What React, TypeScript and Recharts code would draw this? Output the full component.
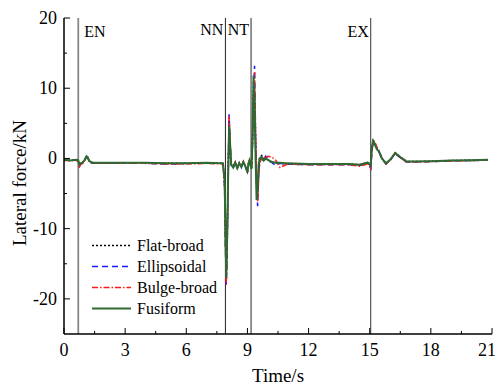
import { LineChart, Line, XAxis, YAxis, ReferenceLine, Legend } from 'recharts';

// time (s) and lateral force (kN)
const time = [
  0, 0.3, 0.6, 0.7, 0.75, 0.8, 0.9, 1.0, 1.1, 1.15, 1.25, 1.4,
  2, 3, 4, 5, 5.5, 6, 7, 7.8,
  7.88, 7.92, 7.96, 8.0, 8.05, 8.1, 8.15, 8.2,
  8.3, 8.4, 8.5, 8.6, 8.7, 8.8, 8.9, 9.0, 9.05, 9.1, 9.2, 9.25,
  9.3, 9.35, 9.4, 9.45, 9.5, 9.55, 9.6, 9.7, 9.8, 9.9, 10.0,
  10.2, 10.4, 10.6, 10.8, 11.0, 12, 13, 14, 14.5, 14.9, 15.0,
  15.05, 15.1, 15.17, 15.25, 15.35, 15.45, 15.6, 15.8, 16.0,
  16.25, 16.5, 16.8, 17, 18, 19, 20, 20.8,
];

const flatBroad = [
  -0.2, -0.3, -0.2, -0.3, -1.0, -0.7, -0.6, -0.3, 0.3, 0.2, -0.4, -0.6,
  -0.6, -0.6, -0.6, -0.7, -0.7, -0.7, -0.6, -0.7,
  -3.5, -11, -17.5, -13, -3.5, 5.5, 2.2, -0.9,
  -1.2, -0.6, -1.3, -0.7, -1.1, -0.5, -1.2, -1.9, -0.7, -0.3, -1.4, 2.5,
  11, 10, 2, -4.5, -5.5, -1.5, 0.1, 0.4, -0.2, 0.1, -0.2,
  -0.5, -0.6, -0.7, -0.7, -0.8, -0.8, -0.8, -0.8, -0.9, -0.6, -0.8,
  -1.2, 1.3, 2.5, 2.1, 1.4, 1.1, 0, -0.7, -0.2,
  0.8, 0.2, -0.4, -0.45, -0.4, -0.3, -0.25, -0.2,
];

const ellipsoidal = [
  -0.2, -0.3, -0.2, -0.3, -1.1, -0.8, -0.7, -0.4, 0.2, 0.2, -0.5, -0.7,
  -0.7, -0.7, -0.7, -0.8, -0.8, -0.7, -0.7, -0.7,
  -4, -12, -18, -14, -4, 6.3, 2.5, -1.0,
  -1.4, -0.7, -1.3, -0.6, -1.3, -0.6, -1.2, -1.8, -1.0, -0.4, -1.3, 2,
  9, 13.2, 3, -3, -6.8, -2.5, -0.5, 0.1, -0.5, 0.3, -0.3,
  -0.6, -1.0, -0.7, -0.8, -0.8, -0.9, -0.9, -0.9, -1.0, -0.7, -0.9,
  -1.8, 0.8, 2.3, 2.2, 1.5, 1.0, -0.1, -0.8, -0.3,
  0.7, 0.1, -0.5, -0.5, -0.45, -0.35, -0.3, -0.25,
];

const bulgeBroad = [
  -0.3, -0.3, -0.3, -0.4, -1.4, -0.9, -0.7, -0.4, 0.2, 0.1, -0.5, -0.7,
  -0.7, -0.7, -0.7, -0.8, -0.8, -0.8, -0.7, -0.8,
  -4, -12, -18, -13, -4, 6.0, 2.3, -0.9,
  -1.2, -0.5, -1.5, -0.6, -1.1, -0.4, -1.2, -1.7, -0.6, -0.2, -1.4, 2.5,
  8.5, 12.3, 4, -2, -6.2, -3, -0.6, 0, 0.3, -0.1, 0.3,
  0.2, -0.3, -1.3, -1.0, -0.8, -0.9, -0.9, -0.9, -1.1, -0.8, -1.0,
  -1.6, 1.0, 2.6, 2.4, 1.6, 1.2, 0.0, -0.8, -0.2,
  0.7, 0.1, -0.5, -0.5, -0.45, -0.35, -0.3, -0.25,
];

const fusiform = [
  -0.2, -0.3, -0.2, -0.3, -0.9, -0.7, -0.6, -0.3, 0.3, 0.2, -0.4, -0.6,
  -0.6, -0.6, -0.6, -0.7, -0.7, -0.7, -0.6, -0.7,
  -3, -10, -17, -12, -3, 4.6, 2, -0.8,
  -1.3, -0.6, -1.4, -0.7, -1.2, -0.5, -1.1, -2.0, -0.8, -0.3, -1.5, 3,
  11.8, 8, 0, -5.9, -4, -1, 0, 0.2, -0.3, 0, -0.2,
  -0.5, -0.6, -0.6, -0.7, -0.7, -0.8, -0.8, -0.8, -0.9, -0.6, -0.8,
  -1.0, 1.5, 2.5, 2.0, 1.3, 1.0, 0, -0.7, -0.2,
  0.8, 0.2, -0.4, -0.45, -0.4, -0.3, -0.25, -0.2,
];

const xTicks = [0, 1.5, 3, 4.5, 6, 7.5, 9, 10.5, 12, 13.5, 15, 16.5, 18, 19.5, 21];
const yTicks = [-20, -15, -10, -5, 0, 5, 10, 15, 20];

const phaseTimes = [0.7, 7.92, 9.18, 15.05];
const phaseLabels = ['EN', 'NN', 'NT', 'EX'];

const seriesNames = ['Flat-broad', 'Ellipsoidal', 'Bulge-broad', 'Fusiform'];
const seriesKeys = ['flat', 'ell', 'bulge', 'fusi'];
const seriesColors = ['#000000', '#1a1aff', '#ff1a1a', '#2e6b30'];
const seriesDash = ['2 2', '6 4', '6 2 1.5 2', undefined];
const seriesWidth = [1.5, 1.5, 1.5, 2];

const rows = time.map((t, i) => ({
  t,
  flat: flatBroad[i],
  ell: ellipsoidal[i],
  bulge: bulgeBroad[i],
  fusi: fusiform[i],
}));

const font = "'Liberation Serif', 'Times New Roman', Times, serif";

const BottomTick = (props: any) => {
  const { x, y, payload } = props;
  const major = payload.value % 3 === 0;
  // last label sits at the right edge, pull it in a little so it is not clipped
  const lx = payload.value === 21 ? x - 5 : x;
  return (
    <g>
      <line x1={x} y1={y} x2={x} y2={y - (major ? 6 : 3)} stroke="#000" strokeWidth={1} />
      {major && (
        <text x={lx} y={y + 22} textAnchor="middle" fontSize={18} fontFamily={font} fill="#000">
          {payload.value}
        </text>
      )}
    </g>
  );
};

const TopTick = (props: any) => {
  const { x, y, payload } = props;
  const major = payload.value % 3 === 0;
  return <line x1={x} y1={y} x2={x} y2={y + (major ? 6 : 3)} stroke="#000" strokeWidth={1} />;
};

const LeftTick = (props: any) => {
  const { x, y, payload } = props;
  const major = payload.value % 10 === 0;
  return (
    <g>
      <line x1={x} y1={y} x2={x + (major ? 6 : 3)} y2={y} stroke="#000" strokeWidth={1} />
      {major && (
        <text x={x - 7} y={y + 6} textAnchor="end" fontSize={18} fontFamily={font} fill="#000">
          {String(payload.value)}
        </text>
      )}
    </g>
  );
};

const RightTick = (props: any) => {
  const { x, y, payload } = props;
  const major = payload.value % 10 === 0;
  return <line x1={x} y1={y} x2={x - (major ? 6 : 3)} y2={y} stroke="#000" strokeWidth={1} />;
};

const XTitle = (props: any) => {
  const vb = props.viewBox;
  return (
    <text x={vb.x + vb.width / 2} y={vb.y + 47.5} textAnchor="middle" fontSize={19} fontFamily={font} fill="#000">
      Time/s
    </text>
  );
};

const YTitle = () => (
  <text
    x={0}
    y={0}
    transform="translate(26,183) rotate(-90)"
    textAnchor="middle"
    fontSize={19}
    fontFamily={font}
    fill="#000"
  >
    Lateral force/kN
  </text>
);

const PhaseLabel = (props: any) => {
  const { viewBox, text, side, dy } = props;
  const x = side === 'right' ? viewBox.x + 6 : viewBox.x - 2;
  return (
    <text
      x={x}
      y={viewBox.y + dy}
      textAnchor={side === 'right' ? 'start' : 'end'}
      fontSize={16}
      fontFamily={font}
      fill="#000"
    >
      {text}
    </text>
  );
};

const phaseStyle = [
  { stroke: '#888', width: 1.8, side: 'right', dy: 19 },
  { stroke: '#222', width: 1, side: 'left', dy: 17 },
  { stroke: '#888', width: 1.8, side: 'left', dy: 17 },
  { stroke: '#333', width: 1, side: 'left', dy: 18.5 },
];

const LegendBox = () => (
  <div style={{ display: 'flex', flexDirection: 'column', fontFamily: font }}>
    {seriesNames.map((n, i) => (
      <div key={n} style={{ display: 'flex', alignItems: 'center', height: 21 }}>
        <svg width={40} height={21}>
          <line
            x1={0}
            y1={10.5}
            x2={39}
            y2={10.5}
            stroke={seriesColors[i]}
            strokeWidth={seriesWidth[i]}
            strokeDasharray={seriesDash[i]}
          />
        </svg>
        <span style={{ marginLeft: 5, fontSize: 16, fontFamily: font, color: '#000', lineHeight: '21px' }}>{n}</span>
      </div>
    ))}
  </div>
);

export default function App() {
  return (
    <div style={{ position: 'absolute', left: 0, top: 0, fontFamily: font, background: '#fff' }}>
      <LineChart
        width={497}
        height={385}
        data={rows}
        margin={{ top: 18, right: 5, bottom: 21, left: 0 }}
        style={{ fontFamily: font }}
      >
        <XAxis
          dataKey="t"
          type="number"
          domain={[0, 21]}
          allowDataOverflow
          ticks={xTicks}
          interval={0}
          tickSize={0}
          tickMargin={0}
          height={30}
          tick={<BottomTick />}
          axisLine={{ stroke: '#000', strokeWidth: 1.5 }}
          label={<XTitle />}
        />
        <XAxis
          xAxisId="top"
          orientation="top"
          dataKey="t"
          type="number"
          domain={[0, 21]}
          allowDataOverflow
          ticks={xTicks}
          interval={0}
          tickSize={0}
          tickMargin={0}
          height={0}
          tick={<TopTick />}
          axisLine={{ stroke: '#000', strokeWidth: 1.5 }}
        />
        <YAxis
          type="number"
          domain={[-25, 20]}
          allowDataOverflow
          ticks={yTicks}
          interval={0}
          tickSize={0}
          tickMargin={0}
          width={64}
          tick={<LeftTick />}
          axisLine={{ stroke: '#000', strokeWidth: 1.5 }}
          label={<YTitle />}
        />
        <YAxis
          yAxisId="right"
          orientation="right"
          type="number"
          domain={[-25, 20]}
          allowDataOverflow
          ticks={yTicks}
          interval={0}
          tickSize={0}
          tickMargin={0}
          width={0}
          tick={<RightTick />}
          axisLine={{ stroke: '#000', strokeWidth: 1.5 }}
        />
        {phaseTimes.map((t, i) => (
          <ReferenceLine
            key={phaseLabels[i]}
            x={t}
            stroke={phaseStyle[i].stroke}
            strokeWidth={phaseStyle[i].width}
            label={<PhaseLabel text={phaseLabels[i]} side={phaseStyle[i].side} dy={phaseStyle[i].dy} />}
          />
        ))}
        {seriesKeys.map((k, i) => (
          <Line
            key={k}
            xAxisId={i === 0 ? 'top' : 0}
            yAxisId={i === 0 ? 'right' : 0}
            dataKey={k}
            name={seriesNames[i]}
            type="linear"
            stroke={seriesColors[i]}
            strokeWidth={seriesWidth[i]}
            strokeDasharray={seriesDash[i]}
            dot={false}
            activeDot={false}
            isAnimationActive={false}
          />
        ))}
        <Legend
          content={<LegendBox />}
          layout="horizontal"
          align="center"
          verticalAlign="middle"
          wrapperStyle={{ left: 92, top: 235, width: 'auto' }}
        />
      </LineChart>
    </div>
  );
}
